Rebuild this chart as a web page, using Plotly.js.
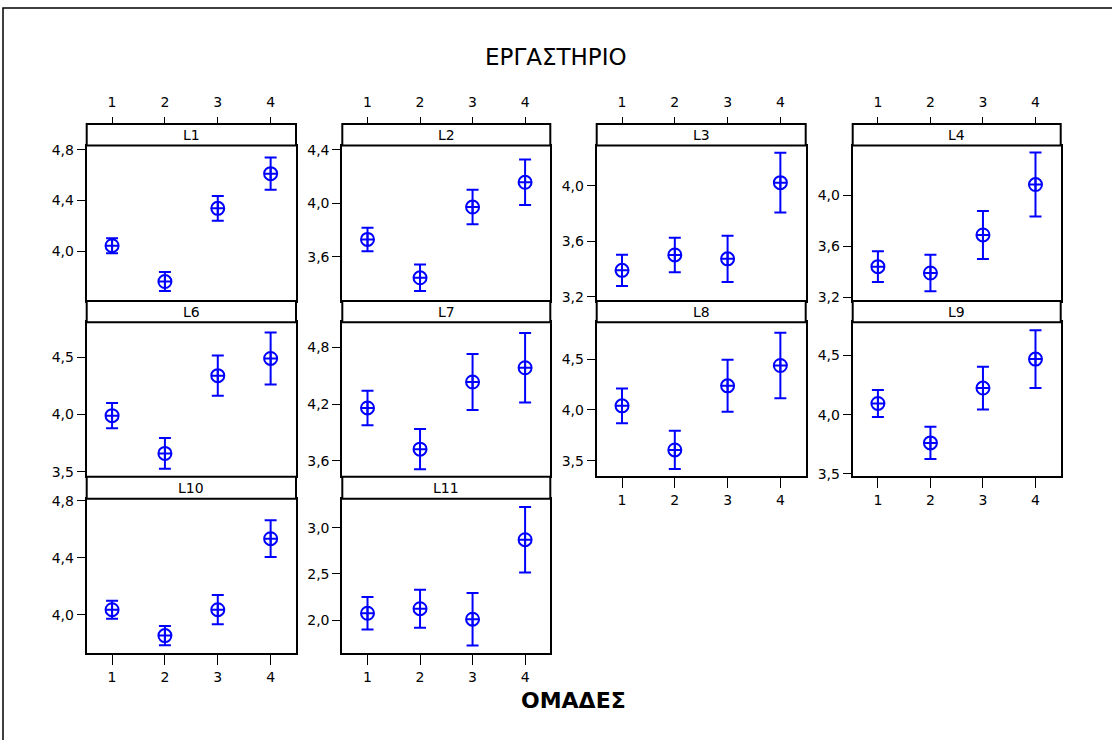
<!DOCTYPE html>
<html>
<head>
<meta charset="utf-8">
<script src="https://cdn.plot.ly/plotly-3.0.1.min.js"></script>
<style>
  html, body { margin: 0; padding: 0; background: #ffffff; }
  #chart { width: 1112px; height: 740px; }
</style>
</head>
<body>
<div id="chart"></div>
<script>
// Groups on the x axis of every panel
const groups = [1, 2, 3, 4];

// Panel labels (one per laboratory)
const panelNames = ['L1', 'L2', 'L3', 'L4', 'L6', 'L7', 'L8', 'L9', 'L10', 'L11'];

// Group means and 95% CI half-widths per laboratory
const meanL1 = [4.043, 3.760, 4.338, 4.612];
const halfL1 = [0.059, 0.075, 0.097, 0.127];
const meanL2 = [3.730, 3.443, 3.972, 4.157];
const halfL2 = [0.088, 0.099, 0.129, 0.170];
const meanL3 = [3.390, 3.501, 3.473, 4.023];
const halfL3 = [0.113, 0.125, 0.167, 0.216];
const meanL4 = [3.441, 3.391, 3.690, 4.087];
const halfL4 = [0.121, 0.144, 0.189, 0.252];
const meanL6 = [3.989, 3.660, 4.338, 4.488];
const halfL6 = [0.110, 0.134, 0.176, 0.227];
const meanL7 = [4.158, 3.722, 4.433, 4.584];
const halfL7 = [0.183, 0.213, 0.296, 0.367];
const meanL8 = [4.039, 3.605, 4.236, 4.436];
const halfL8 = [0.170, 0.188, 0.256, 0.321];
const meanL9 = [4.094, 3.762, 4.224, 4.468];
const halfL9 = [0.114, 0.136, 0.180, 0.244];
const meanL10 = [4.035, 3.853, 4.035, 4.533];
const halfL10 = [0.063, 0.068, 0.103, 0.129];
const meanL11 = [2.076, 2.125, 2.012, 2.870];
const halfL11 = [0.176, 0.205, 0.283, 0.353];

// Y tick labels per panel
const ticksL1 = [4.0, 4.4, 4.8];
const ticksL2 = [3.6, 4.0, 4.4];
const ticksL3 = [3.2, 3.6, 4.0];
const ticksL4 = [3.2, 3.6, 4.0];
const ticksL6 = [3.5, 4.0, 4.5];
const ticksL7 = [3.6, 4.2, 4.8];
const ticksL8 = [3.5, 4.0, 4.5];
const ticksL9 = [3.5, 4.0, 4.5];
const ticksL10 = [4.0, 4.4, 4.8];
const ticksL11 = [2.0, 2.5, 3.0];

const means = [meanL1, meanL2, meanL3, meanL4, meanL6, meanL7, meanL8, meanL9, meanL10, meanL11];
const halves = [halfL1, halfL2, halfL3, halfL4, halfL6, halfL7, halfL8, halfL9, halfL10, halfL11];
const yticks = [ticksL1, ticksL2, ticksL3, ticksL4, ticksL6, ticksL7, ticksL8, ticksL9, ticksL10, ticksL11];

// ---- page geometry (pixels) ----
const W = 1112, H = 740;
const cols = [[86.7, 296], [342.3, 550.3], [596.7, 805.7], [852.7, 1060.7]];
const rows = [
  { strip: [124, 145.5], plot: [145.5, 300.7] },
  { strip: [301, 322.3], plot: [322.3, 476] },
  { strip: [476.7, 498.7], plot: [498.7, 652.7] }
];
// row / column of each panel
const cells = [[0,0],[0,1],[0,2],[0,3],[1,0],[1,1],[1,2],[1,3],[2,0],[2,1]];
// y-axis ranges per panel
const yRanges = [
  [3.609, 4.834], [3.272, 4.432], [3.171, 4.291], [3.173, 4.394],
  [3.463, 4.803], [3.438, 5.065], [3.349, 4.861], [3.483, 4.778],
  [3.733, 4.814], [1.650, 3.313]
];
// panels that carry x tick labels below their plot area
const bottomTicks = new Set(['L8', 'L9', 'L10', 'L11']);
const xRange = [0.52, 4.48];

const px = x => x / W;
const py = y => 1 - y / H;

const BLUE = '#0000ff';
const FONT = 'DejaVu Sans, Verdana, sans-serif';
const TICK_FONT = { family: FONT, size: 14, color: '#000000' };

const axisId = n => (n === 1 ? '' : String(n));

const traces = [];
const layout = {
  width: W, height: H,
  margin: { l: 0, r: 0, t: 0, b: 0 },
  paper_bgcolor: '#ffffff',
  plot_bgcolor: '#ffffff',
  showlegend: false,
  separators: ',.',
  font: { family: FONT, size: 14, color: '#000000' },
  shapes: [],
  annotations: []
};

panelNames.forEach((name, i) => {
  const [r, c] = cells[i];
  const n = i + 1;
  const xa = 'x' + axisId(n);
  const ya = 'y' + axisId(n);
  const col = cols[c];
  const row = rows[r];

  traces.push({
    type: 'scatter',
    mode: 'markers',
    x: groups,
    y: means[i],
    xaxis: xa, yaxis: ya,
    marker: {
      symbol: 'circle-cross-open',
      size: 13,
      color: BLUE,
      line: { color: BLUE, width: 2 }
    },
    error_y: {
      type: 'data',
      array: halves[i],
      visible: true,
      color: BLUE,
      thickness: 2,
      width: 6
    },
    hoverinfo: 'x+y'
  });

  const showX = bottomTicks.has(name);
  layout['xaxis' + axisId(n)] = {
    domain: [px(col[0]), px(col[1])],
    anchor: ya,
    range: xRange,
    tickmode: 'array',
    tickvals: groups,
    ticktext: groups.map(String),
    showticklabels: showX,
    ticks: showX ? 'outside' : '',
    ticklen: 10,
    tickwidth: 1,
    tickcolor: '#000000',
    showline: true,
    mirror: true,
    linecolor: '#000000',
    linewidth: 2,
    showgrid: false,
    zeroline: false,
    fixedrange: true,
    tickfont: TICK_FONT
  };
  layout['yaxis' + axisId(n)] = {
    domain: [py(row.plot[1]), py(row.plot[0])],
    anchor: xa,
    range: yRanges[i],
    tickmode: 'array',
    tickvals: yticks[i],
    tickformat: '.1f',
    ticks: 'outside',
    ticklen: 8,
    tickwidth: 1,
    tickcolor: '#000000',
    showline: true,
    mirror: true,
    linecolor: '#000000',
    linewidth: 2,
    showgrid: false,
    zeroline: false,
    fixedrange: true,
    tickfont: TICK_FONT
  };

  // panel header strip
  layout.shapes.push({
    type: 'rect', xref: 'paper', yref: 'paper',
    x0: px(col[0]), x1: px(col[1]),
    y0: py(row.strip[1]), y1: py(row.strip[0]),
    line: { color: '#000000', width: 2 },
    fillcolor: '#ffffff'
  });
  layout.annotations.push({
    xref: 'paper', yref: 'paper',
    x: px((col[0] + col[1]) / 2),
    y: py((row.strip[0] + row.strip[1]) / 2),
    text: name,
    showarrow: false,
    xanchor: 'center', yanchor: 'middle',
    font: { family: FONT, size: 14, color: '#000000' }
  });
});

// group ticks above the first row of panels (one overlay axis per column)
for (let c = 0; c < 4; c++) {
  const n = 11 + c;
  const baseX = 'x' + axisId(c + 1);
  const baseY = 'y' + axisId(c + 1);
  layout['xaxis' + n] = {
    domain: [px(cols[c][0]), px(cols[c][1])],
    anchor: 'free',
    position: py(rows[0].strip[0]),
    overlaying: baseX,
    side: 'top',
    range: xRange,
    tickmode: 'array',
    tickvals: groups,
    ticktext: groups.map(String),
    ticks: 'outside',
    ticklen: 7,
    tickwidth: 1,
    tickcolor: '#000000',
    ticklabelstandoff: 4,
    showline: false,
    showgrid: false,
    zeroline: false,
    fixedrange: true,
    tickfont: TICK_FONT
  };
  // transparent carrier so the overlay axis gets drawn
  traces.push({
    type: 'scatter',
    mode: 'markers',
    x: groups,
    y: means[c],
    xaxis: 'x' + n,
    yaxis: baseY,
    marker: { opacity: 0, size: 1 },
    hoverinfo: 'skip'
  });
}

// chart title and shared x-axis title
layout.annotations.push({
  xref: 'paper', yref: 'paper',
  x: px(556), y: py(57),
  text: 'ΕΡΓΑΣΤΗΡΙΟ',
  showarrow: false, xanchor: 'center', yanchor: 'middle',
  font: { family: FONT, size: 23, color: '#000000' }
});
layout.annotations.push({
  xref: 'paper', yref: 'paper',
  x: px(573), y: py(700),
  text: '<b>ΟΜΑΔΕΣ</b>',
  showarrow: false, xanchor: 'center', yanchor: 'middle',
  font: { family: FONT, size: 22, color: '#000000' }
});

// outer frame
layout.shapes.push({
  type: 'rect', xref: 'paper', yref: 'paper',
  x0: px(3), x1: px(1120), y0: py(760), y1: py(8),
  line: { color: '#000000', width: 1.5 },
  fillcolor: 'rgba(0,0,0,0)',
  layer: 'below'
});

Plotly.newPlot('chart', traces, layout, { staticPlot: true, displayModeBar: false });
</script>
</body>
</html>
